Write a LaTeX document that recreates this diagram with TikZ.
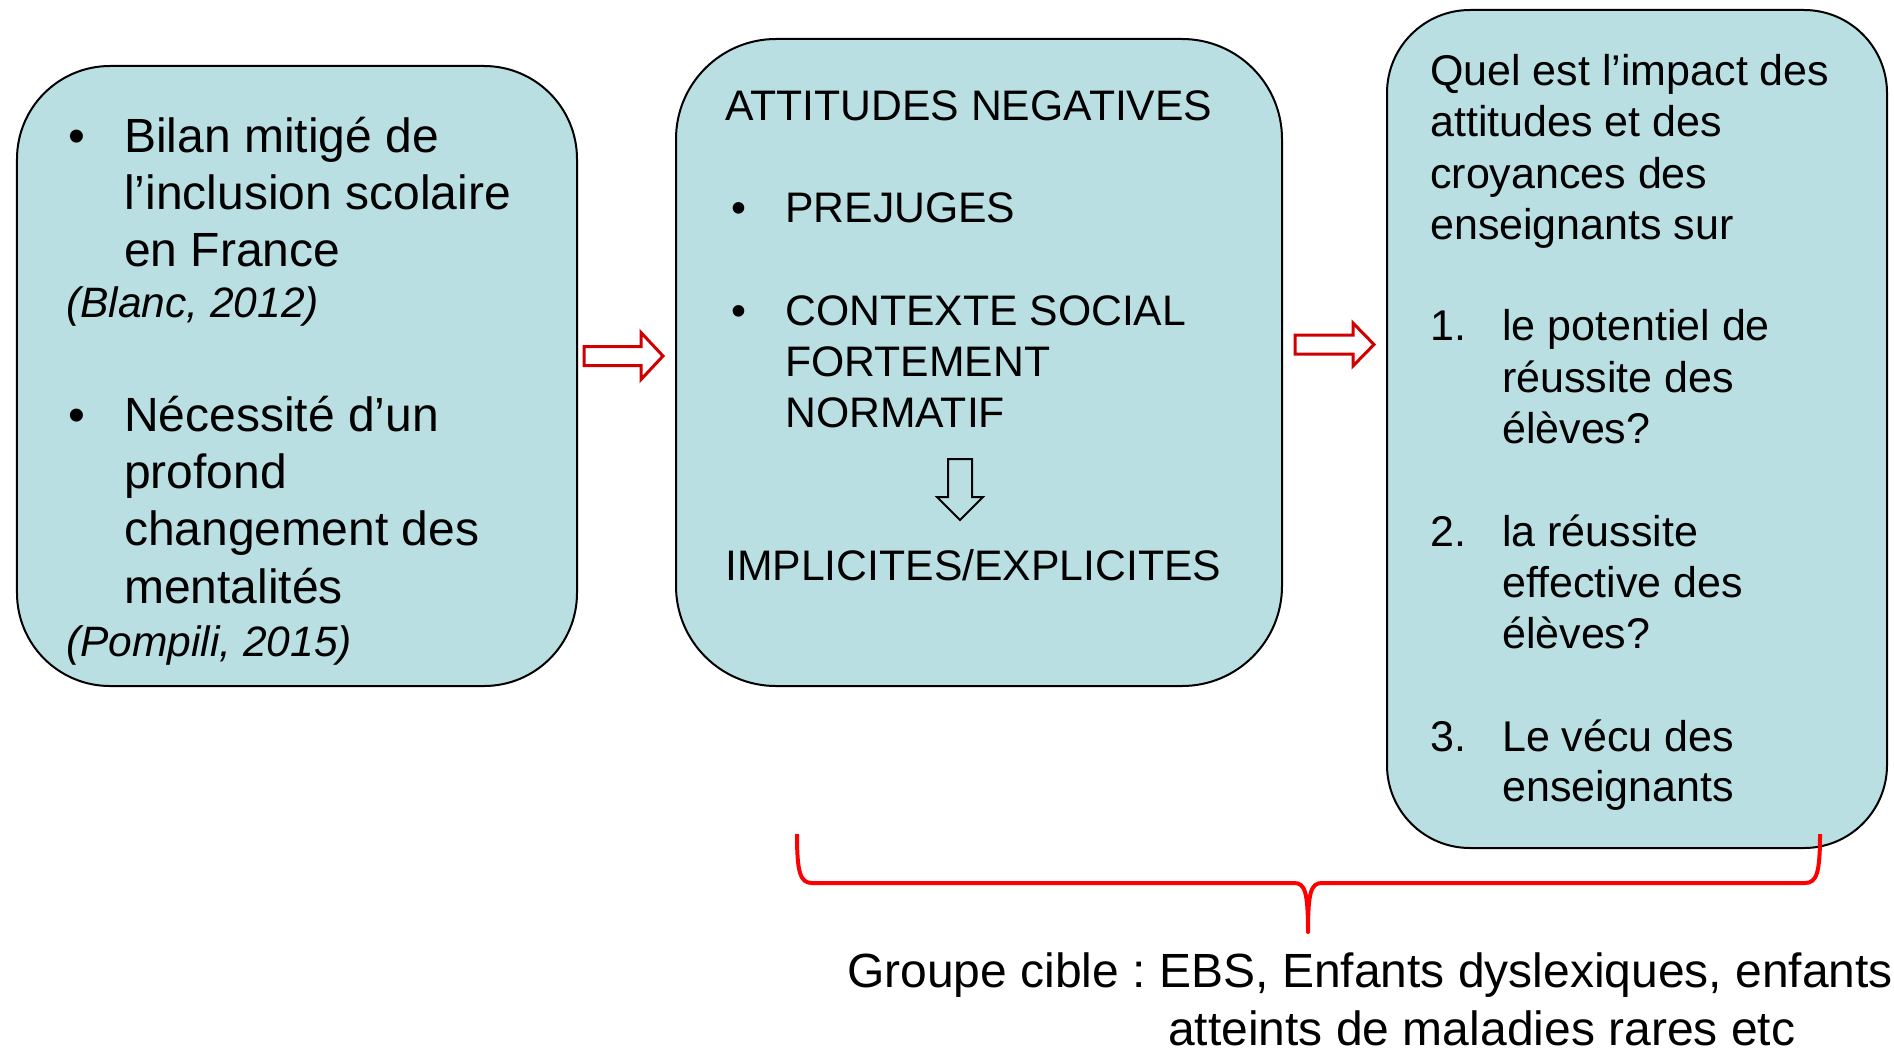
\documentclass[tikz,border=0pt]{standalone}
\usepackage{fontspec}
\setmainfont{Liberation Sans}
\definecolor{boxfill}{RGB}{185,223,227}
\definecolor{arrowred}{RGB}{208,0,0}
\definecolor{bracered}{RGB}{255,0,0}

\begin{document}
\frenchspacing
\begin{tikzpicture}[x=1bp,y=-1bp,
  panel/.style={draw=black, line width=2bp, fill=boxfill, rectangle, inner sep=0pt},
  bigtxt/.style={anchor=base west, inner sep=0pt, font=\fontsize{48bp}{57bp}\selectfont},
  midtxt/.style={anchor=base west, inner sep=0pt, font=\fontsize{42.7bp}{51bp}\selectfont},
  txt/.style={anchor=base west, inner sep=0pt, font=\fontsize{43bp}{51bp}\selectfont},
  cite/.style={anchor=base west, inner sep=0pt, font=\fontsize{42.5bp}{51bp}\selectfont\itshape},
  foot/.style={anchor=base west, inner sep=0pt, font=\fontsize{48bp}{57bp}\selectfont},
  blockarrow/.style={draw=arrowred, line width=3bp, fill=white, line join=miter},
  downarrow/.style={draw=black, line width=2bp, line join=miter}
]
\useasboundingbox (0,0) rectangle (1894,1049);

% three panels
\node[panel, rounded corners=93bp, minimum width=560bp, minimum height=620bp] (p1) at (297,376) {};
\node[panel, rounded corners=100bp, minimum width=606bp, minimum height=647bp] (p2) at (979,362.5) {};
\node[panel, rounded corners=83bp, minimum width=500bp, minimum height=838bp] (p3) at (1637,429) {};

% left panel
\node[bigtxt] (b1) at (68,152) {•};
\node[bigtxt] (l1) at (124,152) {Bilan mitigé de};
\node[bigtxt] (l2) at (124,209) {l’inclusion scolaire};
\node[bigtxt] (l3) at (124,266) {en France};
\node[cite]   (c1) at (66,317) {(Blanc, 2012)};
\node[bigtxt] (b2) at (68,431) {•};
\node[bigtxt] (l4) at (124,431) {Nécessité d’un};
\node[bigtxt] (l5) at (124,488) {profond};
\node[bigtxt] (l6) at (124,545) {changement des};
\node[bigtxt] (l7) at (124,603) {mentalités};
\node[cite]   (c2) at (66,656) {(Pompili, 2015)};

% middle panel
\node[midtxt] (m0) at (725,120) {ATTITUDES NEGATIVES};
\node[midtxt] (mb1) at (731,222) {•};
\node[midtxt] (m1) at (785,222) {PREJUGES};
\node[midtxt] (mb2) at (731,325) {•};
\node[midtxt] (m2) at (785,325) {CONTEXTE SOCIAL};
\node[midtxt] (m3) at (785,376) {FORTEMENT};
\node[midtxt] (m4) at (785,427) {NORMATIF};
\node[midtxt] (m5) at (725,580) {IMPLICITES/EXPLICITES};

% hollow arrow inside the middle panel
\coordinate (dn) at (960,489.5);
\draw[downarrow, shift={(dn)}]
  (-12,-30.5) -- (12,-30.5) -- (12,7.5) -- (23,7.5) -- (0,30.5)
  -- (-23,7.5) -- (-12,7.5) -- cycle;

% right panel
\node[txt] (r1) at (1430,85) {Quel est l’impact des};
\node[txt] (r2) at (1430,136) {attitudes et des};
\node[txt] (r3) at (1430,188) {croyances des};
\node[txt] (r4) at (1430,239) {enseignants sur};
\node[txt] (n1) at (1430,340) {1.};
\node[txt] (r5) at (1502,340) {le potentiel de};
\node[txt] (r6) at (1502,392) {réussite des};
\node[txt] (r7) at (1502,443) {élèves?};
\node[txt] (n2) at (1430,546) {2.};
\node[txt] (r8) at (1502,546) {la réussite};
\node[txt] (r9) at (1502,597) {effective des};
\node[txt] (r10) at (1502,648) {élèves?};
\node[txt] (n3) at (1430,751) {3.};
\node[txt] (r11) at (1502,751) {Le vécu des};
\node[txt] (r12) at (1502,801) {enseignants};

% block arrows between the panels
\coordinate (a12) at (623.5,356);
\draw[blockarrow, shift={(a12)}]
  (-39.5,-9.5) -- (17.5,-9.5) -- (17.5,-23.5) -- (39.5,0)
  -- (17.5,23.5) -- (17.5,9.5) -- (-39.5,9.5) -- cycle;
\coordinate (a23) at (1334.5,344.5);
\draw[blockarrow, shift={(a23)}]
  (-39.5,-9.5) -- (18.5,-9.5) -- (18.5,-21.5) -- (39.5,0)
  -- (18.5,21.5) -- (18.5,9.5) -- (-39.5,9.5) -- cycle;

% brace under the middle and right panels
\coordinate (bl) at (797,834);
\coordinate (bt) at (1308,932);
\coordinate (br) at (1820,834);
\draw[bracered, line width=4bp, line join=round]
  (bl) .. controls (797,872) and (800,883) .. (812,883)
  -- (1294,883) .. controls (1305,883) and (1308,892) .. (bt)
  .. controls (1308,892) and (1311,883) .. (1322,883)
  -- (1805,883) .. controls (1817,883) and (1820,872) .. (br);

% caption
\node[foot] (g1) at (847,987) {Groupe cible : EBS, Enfants dyslexiques, enfants};
\node[foot] (g2) at (1168,1045) {atteints de maladies rares etc};
\end{tikzpicture}
\end{document}
